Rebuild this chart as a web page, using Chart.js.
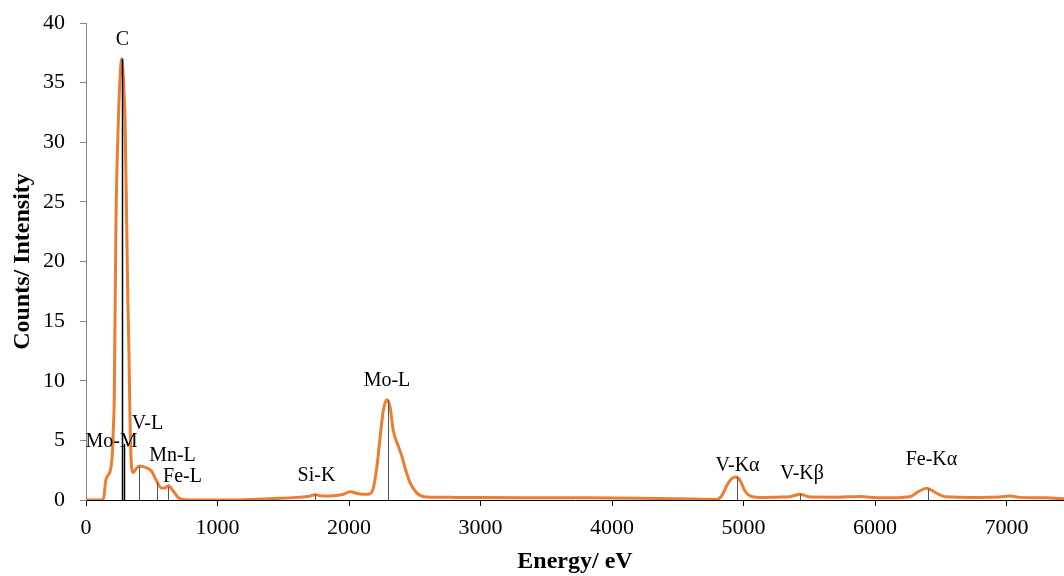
<!DOCTYPE html>
<html>
<head>
<meta charset="utf-8">
<script src="https://cdn.jsdelivr.net/npm/chart.js@4.4.1/dist/chart.umd.min.js"></script>
<style>
  html, body { margin: 0; padding: 0; background: #fff; overflow: hidden; }
  #wrap { width: 1064px; height: 576px; }
</style>
</head>
<body>
<div id="wrap"><canvas id="eds" width="1064" height="576"></canvas></div>
<script>
// spectrum (energy in eV, counts)
const energy = [0, 100, 132, 152, 183, 200, 208, 215, 228, 246, 255, 265, 271, 278, 290, 297, 309, 318, 327, 335, 347, 360,
  380, 405, 435, 461, 500, 532, 575, 600, 626, 664, 702, 753, 850, 1000, 1200, 1350, 1475, 1600, 1700, 1741,
  1780, 1856, 1957, 2008, 2071, 2147, 2185, 2211, 2236, 2261, 2287, 2312, 2337, 2375, 2401, 2426, 2464, 2515, 2591, 2800,
  3000, 3400, 3800, 4200, 4517, 4796, 4834, 4872, 4910, 4943, 4973, 5011, 5049, 5125, 5250, 5354, 5430, 5506, 5700, 5886,
  6038, 6266, 6329, 6393, 6456, 6532, 6798, 6950, 7027, 7103, 7300, 7437];
const counts = [0, 0, 0.06, 1.74, 2.4, 3.8, 6, 8.6, 23.4, 31.8, 34.5, 36.5, 37, 36.5, 34, 31.8, 23.4, 17, 12.2, 6.6, 2.7, 2.3,
  2.6, 2.85, 2.8, 2.7, 2.4, 1.7, 1.0, 1.0, 1.2, 0.75, 0.2, 0.02, 0, 0, 0.03, 0.08, 0.14, 0.22, 0.32, 0.45,
  0.36, 0.34, 0.48, 0.7, 0.53, 0.48, 1.0, 2.7, 5.2, 7.5, 8.4, 7.8, 5.8, 4.5, 3.7, 2.7, 1.45, 0.6, 0.25, 0.22,
  0.2, 0.19, 0.18, 0.15, 0.1, 0.05, 0.34, 1.2, 1.8, 1.93, 1.65, 0.76, 0.34, 0.22, 0.24, 0.28, 0.48, 0.25, 0.24, 0.3,
  0.18, 0.28, 0.7, 0.98, 0.65, 0.28, 0.22, 0.26, 0.33, 0.22, 0.18, 0.1];

// element lines
const peakNames = ["C", "Mo-M", "V-L", "Mn-L", "Fe-L", "Si-K", "Mo-L", "V-Kα", "V-Kβ", "Fe-Kα"];
const peakEnergy = [277, 290, 405, 542, 626, 1741, 2294, 4948, 5430, 6400];
const peakTop = [37, 4.7, 2.8, 1.5, 1.1, 0.5, 8.4, 1.95, 0.5, 0.95];

const xTicks = [0, 1000, 2000, 3000, 4000, 5000, 6000, 7000];
const yTicks = [0, 5, 10, 15, 20, 25, 30, 35, 40];

const serif = '"Liberation Serif", "Times New Roman", serif';

// label nudges in px (text centre relative to line top)
const labelShift = [[0, -19], [-13, -2.5], [8, -43], [15, -26], [14, -10], [1, -18.5], [-1.5, -19], [0, -11], [1.5, -20.5], [3, -29]];

const peakLines = {
  id: "peakLines",
  afterDatasetsDraw(chart) {
    const ctx = chart.ctx;
    const xs = chart.scales.x, ys = chart.scales.y;
    ctx.save();
    peakNames.forEach((name, i) => {
      const px = Math.round(xs.getPixelForValue(peakEnergy[i])) + 0.5;
      const top = ys.getPixelForValue(peakTop[i]);
      const base = ys.getPixelForValue(0);
      ctx.beginPath();
      ctx.strokeStyle = i < 2 ? "#000" : "#555";
      ctx.lineWidth = i < 2 ? 1.5 : 1;
      ctx.moveTo(px, base);
      ctx.lineTo(px, top);
      ctx.stroke();
      ctx.fillStyle = "#000";
      ctx.font = "20px " + serif;
      ctx.textAlign = "center";
      ctx.textBaseline = "middle";
      ctx.fillText(name, px + labelShift[i][0], top + labelShift[i][1]);
    });
    ctx.restore();
  }
};

new Chart(document.getElementById("eds"), {
  type: "line",
  data: {
    datasets: [{
      label: "EDS",
      data: energy.map((e, i) => ({ x: e, y: counts[i] })),
      borderColor: "#ED7D31",
      borderWidth: 3,
      pointRadius: 0,
      cubicInterpolationMode: "monotone",
      fill: false
    }]
  },
  options: {
    responsive: false,
    animation: false,
    layout: { padding: { top: 23, right: 0, left: 0, bottom: 0 } },
    plugins: { legend: { display: false }, tooltip: { enabled: false } },
    scales: {
      x: {
        type: "linear",
        min: 0,
        max: 7437,
        afterBuildTicks: s => { s.ticks = xTicks.map(v => ({ value: v })); },
        afterFit: s => { s.height = 76; },
        ticks: { color: "#000", font: { family: serif, size: 22 }, padding: 9, maxRotation: 0, callback: v => String(v) },
        grid: { drawOnChartArea: false, tickLength: 6, color: "#000" },
        border: { color: "#000", width: 1 },
        title: { display: true, text: "Energy/ eV", color: "#000", font: { family: serif, size: 24, weight: "bold" }, padding: { top: 2, bottom: 0 } }
      },
      y: {
        min: 0,
        max: 40,
        afterBuildTicks: s => { s.ticks = yTicks.map(v => ({ value: v })); },
        afterFit: s => { s.width = 86; s.paddingTop = 0; s.paddingBottom = 0; },
        ticks: { color: "#000", font: { family: serif, size: 22 }, padding: 15 },
        grid: { drawOnChartArea: false, tickLength: 6, color: "#868686" },
        border: { color: "#868686", width: 1 },
        title: { display: true, text: "Counts/ Intensity", color: "#000", font: { family: serif, size: 24, weight: "bold" }, padding: { top: 8, bottom: 0 } }
      }
    }
  },
  plugins: [peakLines]
});
</script>
</body>
</html>
